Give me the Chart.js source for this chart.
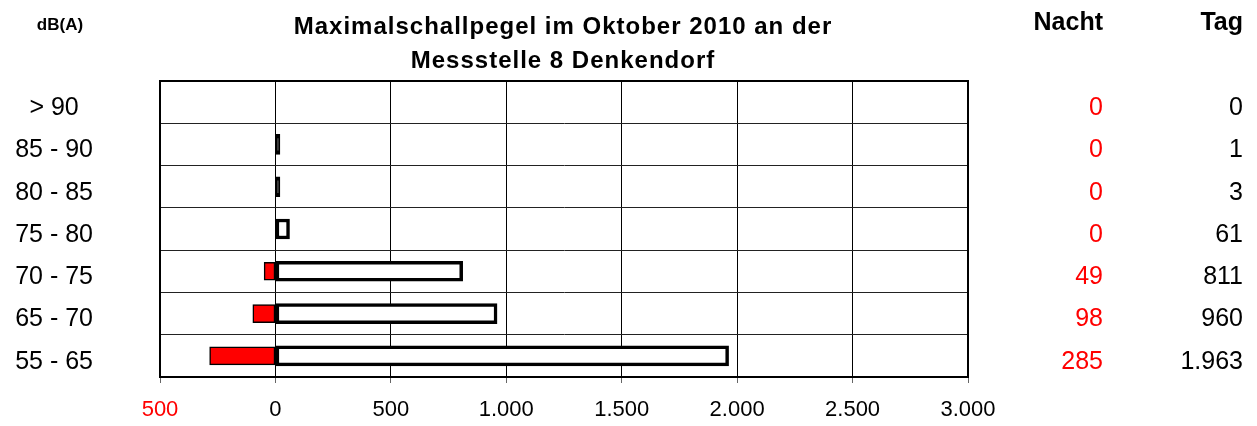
<!DOCTYPE html>
<html>
<head>
<meta charset="utf-8">
<script src="https://cdn.jsdelivr.net/npm/chart.js@4/dist/chart.umd.min.js"></script>
<style>
    html, body { margin: 0; padding: 0; background: #fff; }
    #wrap { width: 1257px; height: 426px; position: relative; }
</style>
</head>
<body>
<div id="wrap"><canvas id="chart"></canvas></div>
<script>
// Data
const categories = ['> 90', '85 - 90', '80 - 85', '75 - 80', '70 - 75', '65 - 70', '55 - 65'];
const nacht = [0, 0, 0, 0, 49, 98, 285];
const tag = [0, 1, 3, 61, 811, 960, 1963];
const xTicks = [-500, 0, 500, 1000, 1500, 2000, 2500, 3000];

const titleLines = ['Maximalschallpegel im Oktober 2010 an der', 'Messstelle 8 Denkendorf'];

const FONT = '"Liberation Sans", Arial, sans-serif';
const RED = '#ff0000';
const NONE = 'rgba(0,0,0,0)';

// 1963 -> "1.963"
function fmt(v) {
    return String(Math.abs(v)).replace(/\B(?=(\d{3})+(?!\d))/g, '.');
}

// bars narrower than their outline are just drawn solid black
function tagFill(c) {
    if (c.raw === 0) return NONE;
    const x = c.chart.scales.x;
    const w = x.getPixelForValue(c.raw) - x.getPixelForValue(0);
    return w < 8 ? '#000000' : '#ffffff';
}

// Title, header texts, value columns and outer frame
const decorations = {
    id: 'decorations',
    afterDraw(chart) {
        const ctx = chart.ctx;
        const area = chart.chartArea;
        const yScale = chart.scales.y;
        ctx.save();

        ctx.strokeStyle = '#000';
        ctx.lineWidth = 2;
        ctx.strokeRect(area.left, area.top, area.right - area.left, area.bottom - area.top);

        ctx.fillStyle = '#000';
        ctx.textBaseline = 'alphabetic';
        ctx.textAlign = 'center';
        ctx.font = 'bold 24px ' + FONT;
        ctx.letterSpacing = '1px';
        ctx.fillText(titleLines[0], 563, 34);
        ctx.fillText(titleLines[1], 563, 68);
        ctx.letterSpacing = '0px';

        ctx.font = 'bold 17px ' + FONT;
        ctx.fillText('dB(A)', 60, 30);

        ctx.textAlign = 'right';
        ctx.font = 'bold 25px ' + FONT;
        ctx.fillText('Nacht', 1103, 30);
        ctx.fillText('Tag', 1243, 30);

        ctx.font = '25px ' + FONT;
        ctx.textBaseline = 'middle';
        categories.forEach((c, i) => {
            const y = yScale.getPixelForValue(i) + 6;
            ctx.fillStyle = RED;
            ctx.fillText(fmt(nacht[i]), 1103, y);
            ctx.fillStyle = '#000';
            ctx.fillText(fmt(tag[i]), 1243, y);
        });
        ctx.restore();
    }
};

new Chart(document.getElementById('chart'), {
    type: 'bar',
    data: {
        labels: categories,
        datasets: [
            {
                label: 'Tag',
                data: tag,
                backgroundColor: tagFill,
                borderColor: c => c.raw === 0 ? NONE : '#000000',
                borderWidth: c => c.raw === 0 ? 0 : 3.5,
                borderSkipped: false,
                barThickness: 20,
                minBarLength: 4.5
            },
            {
                label: 'Nacht',
                data: nacht.map(v => -v),
                backgroundColor: c => c.raw === 0 ? NONE : RED,
                borderColor: c => c.raw === 0 ? NONE : '#000000',
                borderWidth: c => c.raw === 0 ? 0 : 1.5,
                borderSkipped: false,
                barThickness: 18
            }
        ]
    },
    options: {
        indexAxis: 'y',
        responsive: true,
        maintainAspectRatio: false,
        animation: false,
        layout: { padding: { top: 81, right: 289, left: 0, bottom: 0 } },
        plugins: {
            legend: { display: false },
            tooltip: { enabled: false },
            title: { display: false }
        },
        scales: {
            x: {
                stacked: true,
                min: -500,
                max: 3000,
                afterFit: s => { s.height = 49; },
                afterBuildTicks: s => { s.ticks = xTicks.map(v => ({ value: v })); },
                border: { display: true, color: '#000', width: 2 },
                grid: { color: '#000', lineWidth: 1, drawTicks: true, tickLength: 6, tickColor: '#666' },
                ticks: {
                    padding: 14,
                    maxRotation: 0,
                    autoSkip: false,
                    font: { family: FONT, size: 22 },
                    color: c => c.tick.value < 0 ? RED : '#000',
                    callback: v => fmt(v)
                }
            },
            y: {
                stacked: true,
                // big label padding would otherwise push the plot down
                afterFit: s => { s.width = 160; s.paddingTop = 0; s.paddingBottom = 0; },
                border: { display: true, color: '#000', width: 2 },
                grid: { offset: true, color: '#222', lineWidth: 1, drawTicks: false },
                ticks: {
                    padding: 67,
                    crossAlign: 'center',
                    labelOffset: 6,
                    font: { family: FONT, size: 25 },
                    color: '#000'
                }
            }
        }
    },
    plugins: [decorations]
});
</script>
</body>
</html>
